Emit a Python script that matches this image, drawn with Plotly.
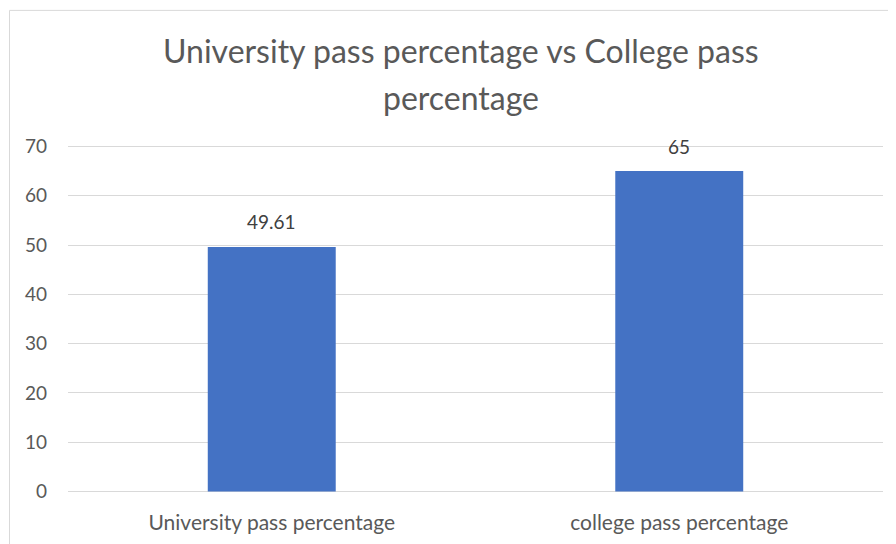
import plotly.graph_objects as go

categories = ["University pass percentage", "college pass percentage"]
values = [49.61, 65]
value_labels = ["49.61", "65"]
y_ticks = [0, 10, 20, 30, 40, 50, 60, 70]
title_lines = ["University pass percentage vs College pass", "percentage"]

W, H = 896, 544
L, R, T, B = 60, 21, 136.5, 58.5
pw, ph = W - L - R, H - T - B

fig = go.Figure(go.Bar(
    x=categories, y=values,
    marker=dict(color="#4472C4", line=dict(width=0)),
))

def px_x(p):
    return (p - L) / pw

def px_y(p):
    return (H - B - p) / ph

annotations = []
for c, v, t in zip(categories, values, value_labels):
    annotations.append(dict(x=c, y=v, xref="x", yref="y", text=t, showarrow=False,
                            yanchor="middle", xanchor="center", yshift=25,
                            font=dict(family="Lato", size=19, color="#404040")))
for i, line in enumerate(title_lines):
    annotations.append(dict(x=px_x(453), y=px_y(42 + 47 * i), xref="paper", yref="paper",
                            text=line, showarrow=False, xanchor="center", yanchor="middle",
                            font=dict(family="Lato", size=32, color="#595959")))

fig.update_layout(
    width=W, height=H,
    margin=dict(l=L, r=R, t=T, b=B),
    paper_bgcolor="white", plot_bgcolor="white",
    bargap=0.686,
    showlegend=False,
    font=dict(family="Lato", color="#595959"),
    xaxis=dict(range=[-0.5, 1.5], showgrid=False, showline=False, ticks="",
               ticklabelstandoff=15,
               tickfont=dict(family="Lato", size=21, color="#595959")),
    yaxis=dict(range=[-0.3, 70.3], tickvals=y_ticks, showgrid=True, gridcolor="#D9D9D9",
               gridwidth=1, zeroline=False, showline=False, ticks="",
               ticklabelstandoff=20,
               tickfont=dict(family="Lato", size=19, color="#595959")),
    annotations=annotations,
    shapes=[dict(type="rect", xref="paper", yref="paper",
                 x0=px_x(1.5), x1=px_x(W + 30), y0=px_y(H + 30), y1=px_y(1.5),
                 line=dict(color="#D9D9D9", width=1), fillcolor="rgba(0,0,0,0)",
                 layer="below")],
)

fig.write_html("out.html")
